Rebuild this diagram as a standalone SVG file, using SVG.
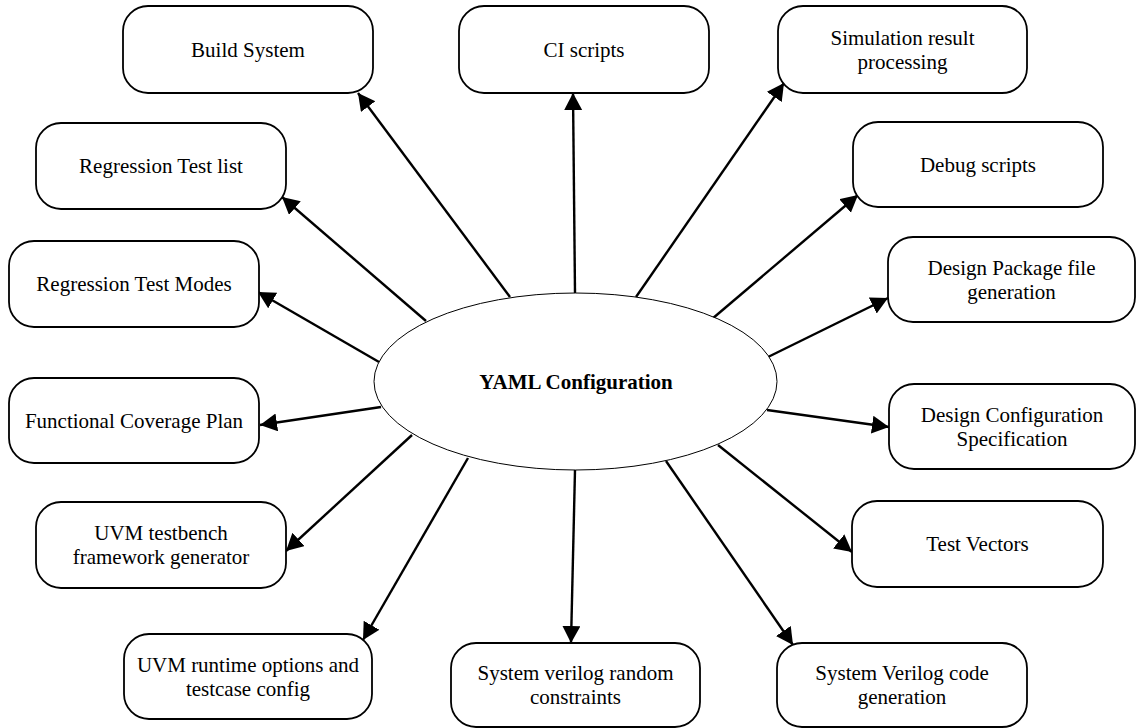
<svg xmlns="http://www.w3.org/2000/svg" width="1137" height="728" viewBox="0 0 1137 728">
  <style>
    .box { fill: #ffffff; stroke: #000000; stroke-width: 1.8; }
    .hub { fill: #ffffff; stroke: #000000; stroke-width: 1; }
    .lbl { font-family: "Liberation Serif", "Times New Roman", serif; font-size: 21px; fill: #000000; text-anchor: middle; }
    .hubtxt { font-weight: bold; }
    .edge { stroke: #000000; stroke-width: 2.4; fill: none; marker-end: url(#head); }
  </style>
  <defs>
    <marker id="head" markerUnits="userSpaceOnUse" markerWidth="19" markerHeight="20" refX="17" refY="9" orient="auto">
      <path d="M0,0 L17,9 L0,18 Z" fill="#000000"/>
    </marker>
  </defs>
  <rect width="1137" height="728" fill="#ffffff"/>

  <!-- connectors from the hub out to each consumer -->
  <g id="connectors">
    <line class="edge" x1="510" y1="297" x2="358" y2="93"/>
    <line class="edge" x1="575" y1="293" x2="573" y2="93"/>
    <line class="edge" x1="636" y1="297" x2="784" y2="83"/>
    <line class="edge" x1="712" y1="319" x2="858" y2="195"/>
    <line class="edge" x1="768" y1="357" x2="888" y2="298"/>
    <line class="edge" x1="767" y1="410" x2="889" y2="427"/>
    <line class="edge" x1="718" y1="445" x2="852" y2="552"/>
    <line class="edge" x1="666" y1="461" x2="793" y2="645"/>
    <line class="edge" x1="575" y1="470" x2="571" y2="643"/>
    <line class="edge" x1="468" y1="458" x2="363" y2="640"/>
    <line class="edge" x1="412" y1="435" x2="286" y2="551"/>
    <line class="edge" x1="381" y1="407" x2="260" y2="425"/>
    <line class="edge" x1="379" y1="362" x2="258" y2="292"/>
    <line class="edge" x1="426" y1="321" x2="282" y2="197"/>
  </g>

  <g id="yaml-configuration">
    <ellipse class="hub" cx="575.5" cy="381.5" rx="201.5" ry="88.5"/>
    <text class="lbl hubtxt" x="576" y="389">YAML Configuration</text>
  </g>

  <g id="build-system">
    <rect class="box" x="123" y="6" width="250" height="87" rx="25"/>
    <text class="lbl" x="248" y="57">Build System</text>
  </g>
  <g id="ci-scripts">
    <rect class="box" x="459" y="6" width="250" height="87" rx="25"/>
    <text class="lbl" x="584" y="57">CI scripts</text>
  </g>
  <g id="simulation-result-processing">
    <rect class="box" x="778" y="6" width="249" height="87" rx="25"/>
    <text class="lbl" x="902.5" y="45">Simulation result</text>
    <text class="lbl" x="902.5" y="69">processing</text>
  </g>
  <g id="regression-test-list">
    <rect class="box" x="36" y="123" width="250" height="86" rx="25"/>
    <text class="lbl" x="161" y="173">Regression Test list</text>
  </g>
  <g id="debug-scripts">
    <rect class="box" x="853" y="122" width="250" height="85" rx="25"/>
    <text class="lbl" x="978" y="172">Debug scripts</text>
  </g>
  <g id="regression-test-modes">
    <rect class="box" x="9" y="241" width="250" height="86" rx="25"/>
    <text class="lbl" x="134" y="291">Regression Test Modes</text>
  </g>
  <g id="design-package-file-generation">
    <rect class="box" x="888" y="237" width="247" height="85" rx="25"/>
    <text class="lbl" x="1011.5" y="275">Design Package file</text>
    <text class="lbl" x="1011.5" y="299">generation</text>
  </g>
  <g id="functional-coverage-plan">
    <rect class="box" x="9" y="378" width="250" height="85" rx="25"/>
    <text class="lbl" x="134" y="428">Functional Coverage Plan</text>
  </g>
  <g id="design-configuration-specification">
    <rect class="box" x="889" y="384" width="246" height="85" rx="25"/>
    <text class="lbl" x="1012" y="422">Design Configuration</text>
    <text class="lbl" x="1012" y="446">Specification</text>
  </g>
  <g id="uvm-testbench-framework-generator">
    <rect class="box" x="36" y="502" width="250" height="86" rx="25"/>
    <text class="lbl" x="161" y="540">UVM testbench</text>
    <text class="lbl" x="161" y="564">framework generator</text>
  </g>
  <g id="test-vectors">
    <rect class="box" x="852" y="501" width="251" height="86" rx="25"/>
    <text class="lbl" x="977.5" y="551">Test Vectors</text>
  </g>
  <g id="uvm-runtime-options">
    <rect class="box" x="124" y="634" width="248" height="85" rx="25"/>
    <text class="lbl" x="248" y="672">UVM runtime options and</text>
    <text class="lbl" x="248" y="696">testcase config</text>
  </g>
  <g id="system-verilog-random-constraints">
    <rect class="box" x="451" y="643" width="249" height="84" rx="25"/>
    <text class="lbl" x="575.5" y="680">System verilog random</text>
    <text class="lbl" x="575.5" y="704">constraints</text>
  </g>
  <g id="system-verilog-code-generation">
    <rect class="box" x="777" y="643" width="250" height="84" rx="25"/>
    <text class="lbl" x="902" y="680">System Verilog code</text>
    <text class="lbl" x="902" y="704">generation</text>
  </g>
</svg>
